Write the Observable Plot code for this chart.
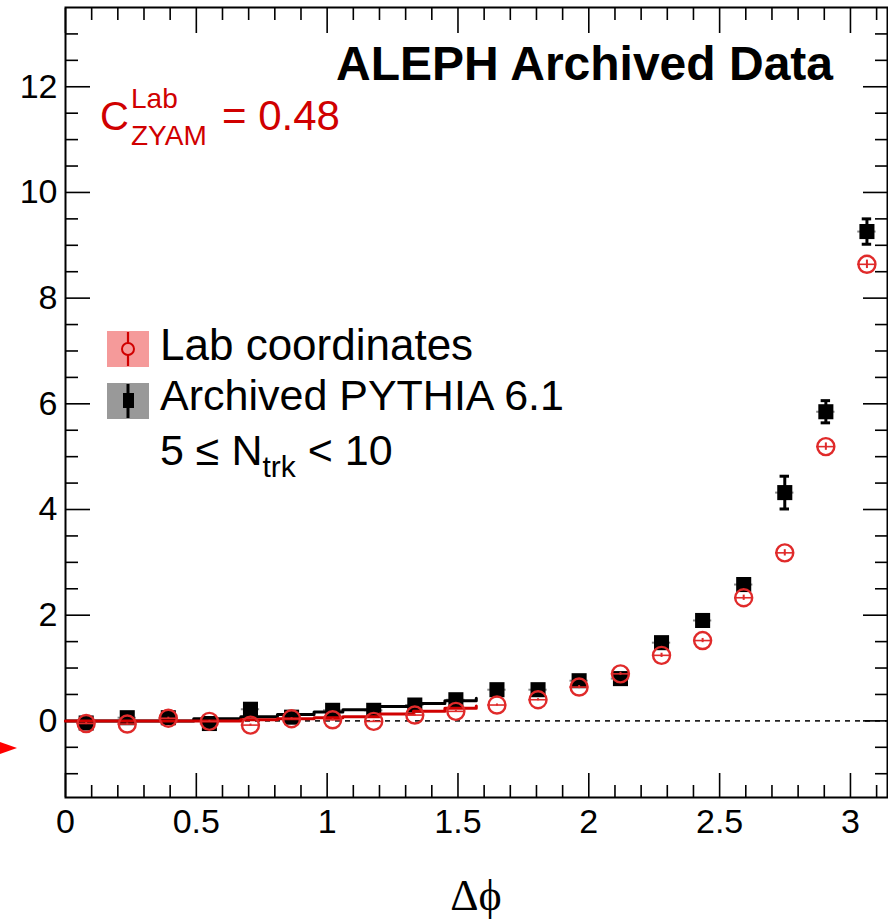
<!DOCTYPE html>
<html><head><meta charset="utf-8">
<script src="https://cdn.jsdelivr.net/npm/d3@7"></script>
<script src="https://cdn.jsdelivr.net/npm/@observablehq/plot@0.6"></script>
<style>
body{margin:0;background:#fff;}
#wrap{width:888px;height:919px;overflow:hidden;}
</style></head><body><div id="wrap"></div>
<script>
// Δφ bin centres
const dphi = [0.079,0.236,0.393,0.550,0.707,0.864,1.021,1.178,1.335,1.492,1.649,1.806,1.963,2.121,2.278,2.435,2.592,2.749,2.906,3.063];
// Lab coordinates (red open circles)
const labY   = [-0.05,-0.06,0.05,-0.01,-0.08,0.04,0.02,-0.01,0.11,0.18,0.30,0.40,0.64,0.89,1.24,1.52,2.33,3.18,5.19,8.64];
const labErr = [0.02,0.02,0.02,0.02,0.02,0.02,0.02,0.02,0.02,0.02,0.02,0.02,0.03,0.03,0.04,0.04,0.05,0.06,0.07,0.08];
// Archived PYTHIA 6.1 (black squares)
const pythiaY   = [-0.04,0.06,0.06,-0.05,0.22,0.07,0.20,0.20,0.30,0.40,0.59,0.59,0.76,0.80,1.48,1.90,2.58,4.32,5.85,9.26];
const pythiaErr = [0.05,0.05,0.05,0.05,0.05,0.05,0.05,0.05,0.05,0.06,0.06,0.06,0.06,0.06,0.08,0.10,0.10,0.31,0.21,0.24];
const xErr = 0.035;
// ZYAM fit (stepped)
const fitX     = [0.00,0.49,0.67,0.81,0.95,1.06,1.20,1.33,1.45,1.57];
const fitBlack = [0.00,0.04,0.08,0.12,0.17,0.21,0.27,0.33,0.38,0.43];
const fitRed   = [0.00,0.00,0.02,0.04,0.06,0.08,0.13,0.18,0.24,0.28];
// ticks
const xMajor = [0,0.5,1,1.5,2,2.5,3];
const xMinor = [0.1,0.2,0.3,0.4,0.6,0.7,0.8,0.9,1.1,1.2,1.3,1.4,1.6,1.7,1.8,1.9,2.1,2.2,2.3,2.4,2.6,2.7,2.8,2.9,3.1];
const yMajor = [0,2,4,6,8,10,12];
const yMinor = [-1,-0.5,0.5,1,1.5,2.5,3,3.5,4.5,5,5.5,6.5,7,7.5,8.5,9,9.5,10.5,11,11.5,12.5,13];

const RED = "#e02a2a", REDLINE = "#d00000";
const lab = dphi.map((x,i)=>({x, y:labY[i], e:labErr[i]}));
const py  = dphi.map((x,i)=>({x, y:pythiaY[i], e:pythiaErr[i]}));
const fitB = fitX.map((x,i)=>({x, y:fitBlack[i]}));
const fitR = fitX.map((x,i)=>({x, y:fitRed[i]}));

const tk = (data, anchor, size, kind) => (kind==="x" ? Plot.axisX : Plot.axisY)(data, {anchor, tickSize:-size, fill:"none", label:null, strokeWidth:1.6});

const plot = Plot.plot({
  width: 888, height: 919,
  marginLeft: 65, marginRight: 1, marginTop: 7, marginBottom: 122,
  x: {domain: [0, Math.PI]},
  y: {domain: [-1.45, 13.5]},
  style: {fontFamily: "'Liberation Sans', Arial, sans-serif", fontSize: "34px", color: "#000", background: "#fff"},
  marks: [
    Plot.ruleY([0], {stroke:"#222", strokeWidth:1.6, strokeDasharray:"5,5"}),
    tk(xMajor,"bottom",24,"x"), tk(xMinor,"bottom",12,"x"),
    tk(xMajor,"top",25,"x"), tk(xMinor,"top",12,"x"),
    tk(yMajor,"left",25,"y"), tk(yMinor,"left",13,"y"),
    tk(yMajor,"right",25,"y"), tk(yMinor,"right",13,"y"),
    Plot.axisX(xMajor, {anchor:"bottom", tickSize:0, tickPadding:11, label:null, fontSize:34, tickFormat:d=>String(d)}),
    Plot.axisY(yMajor, {anchor:"left", tickSize:0, tickPadding:8, label:null, fontSize:34, tickFormat:d=>String(d)}),
    Plot.frame({stroke:"#000", strokeWidth:2}),
    // PYTHIA
    Plot.ruleY(py, {y:"y", x1:d=>d.x-xErr, x2:d=>d.x+xErr, stroke:"#888", strokeWidth:2}),
    Plot.ruleX(py, {x:"x", y1:d=>d.y-d.e, y2:d=>d.y+d.e, stroke:"#000", strokeWidth:3}),
    Plot.ruleY(py, {y:d=>d.y+d.e, x1:d=>d.x-0.018, x2:d=>d.x+0.018, stroke:"#000", strokeWidth:3}),
    Plot.ruleY(py, {y:d=>d.y-d.e, x1:d=>d.x-0.018, x2:d=>d.x+0.018, stroke:"#000", strokeWidth:3}),
    Plot.dot(py, {x:"x", y:"y", symbol:"square", r:8.5, fill:"#000"}),
    Plot.line(fitB, {x:"x", y:"y", curve:"step-after", stroke:"#000", strokeWidth:3}),
    Plot.line(fitR, {x:"x", y:"y", curve:"step-after", stroke:REDLINE, strokeWidth:3}),
    // Lab
    Plot.ruleY(lab, {y:"y", x1:d=>d.x-xErr, x2:d=>d.x+xErr, stroke:RED, strokeWidth:1.6}),
    Plot.ruleX(lab, {x:"x", y1:d=>d.y-d.e, y2:d=>d.y+d.e, stroke:RED, strokeWidth:2}),
    Plot.dot(lab, {x:"x", y:"y", r:8.5, stroke:RED, strokeWidth:2.4, fill:"none"})
  ]
});
document.getElementById("wrap").appendChild(plot);

const svg = d3.select(plot);
const g = svg.append("g").attr("font-family","'Liberation Sans', Arial, sans-serif").attr("text-anchor","start");
g.append("text").attr("x",833).attr("y",80).attr("text-anchor","end").attr("font-size",48).attr("font-weight","bold").attr("fill","#000").text("ALEPH Archived Data");
// C_ZYAM^Lab = 0.48
const cz = g.append("g").attr("fill",REDLINE);
cz.append("text").attr("x",100).attr("y",130).attr("font-size",40).text("C");
cz.append("text").attr("x",131).attr("y",108).attr("font-size",28).text("Lab");
cz.append("text").attr("x",131).attr("y",145).attr("font-size",28).text("ZYAM");
cz.append("text").attr("x",222).attr("y",130).attr("font-size",42).text("= 0.48");
// legend
g.append("rect").attr("x",107).attr("y",331).attr("width",42).attr("height",36).attr("fill","#f59a9a");
g.append("line").attr("x1",128).attr("x2",128).attr("y1",332).attr("y2",366).attr("stroke",REDLINE).attr("stroke-width",2.2);
g.append("circle").attr("cx",128).attr("cy",349).attr("r",6).attr("fill","#f59a9a").attr("stroke",REDLINE).attr("stroke-width",2);
g.append("rect").attr("x",107).attr("y",383).attr("width",42).attr("height",36).attr("fill","#999");
g.append("line").attr("x1",128).attr("x2",128).attr("y1",384).attr("y2",418).attr("stroke","#000").attr("stroke-width",3);
g.append("rect").attr("x",123).attr("y",393).attr("width",11).attr("height",15).attr("fill","#000");
g.append("text").attr("x",160).attr("y",360).attr("font-size",44).attr("fill","#000").text("Lab coordinates");
g.append("text").attr("x",160).attr("y",410).attr("font-size",43).attr("fill","#000").text("Archived PYTHIA 6.1");
const nt = g.append("text").attr("x",160).attr("y",465).attr("font-size",43).attr("fill","#000");
nt.append("tspan").text("5 ≤ N");
nt.append("tspan").attr("font-size",30).attr("dy",12).text("trk");
nt.append("tspan").attr("dy",-12).text(" < 10");
// axis title
g.append("text").attr("x",476).attr("y",910).attr("text-anchor","middle").attr("font-size",44)
  .attr("font-family","'Liberation Serif', 'DejaVu Serif', serif").attr("fill","#000").text("Δϕ");
// red marker arrow at the left edge
g.append("path").attr("d","M0,742L17,748L0,754Z").attr("fill","#f00");
</script></body></html>
